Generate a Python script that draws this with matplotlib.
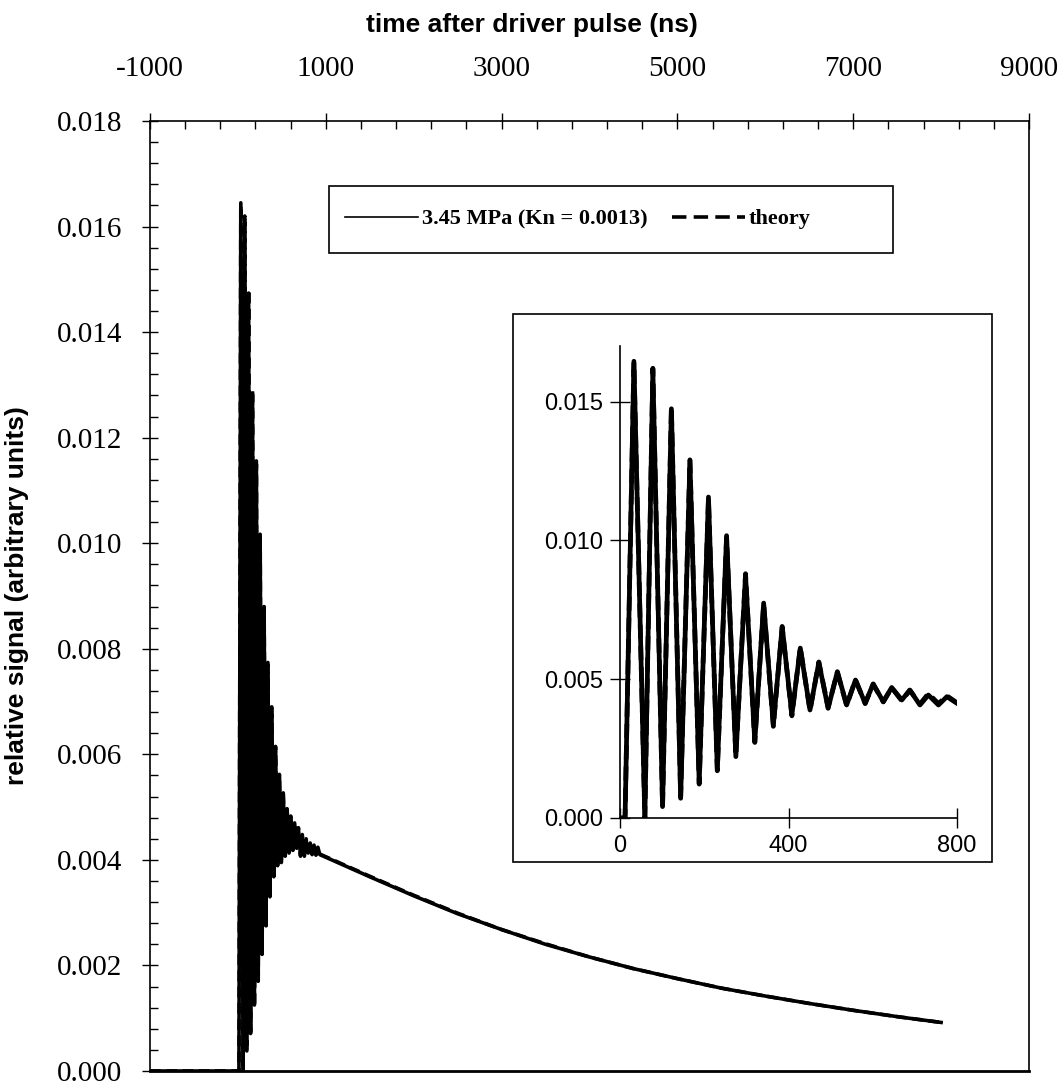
import matplotlib
matplotlib.use("Agg")
import matplotlib.pyplot as plt
from matplotlib import font_manager
from matplotlib.patches import Rectangle
from matplotlib.ticker import MultipleLocator, FixedLocator, FormatStrFormatter
import numpy as np

plt.rcParams["axes.unicode_minus"] = False

# --- data (time in ns, signal in arbitrary units) ---
t_pre = [-1000, 0]
sig_pre = [0.0, 0.0]

t_osc = [0, 12, 33, 59, 78, 101, 122, 144, 166, 188, 210, 231, 253, 275, 298,
         320, 341, 364, 385, 408, 428, 451, 472, 494, 516, 538, 559, 582, 601,
         625, 645, 669, 688, 712, 732, 756, 776, 800]
sig_osc = [0.0, 0.0, 0.01645, 0.0, 0.01615, 0.00041, 0.01474, 0.00071, 0.01284,
           0.00125, 0.01156, 0.00173, 0.01017, 0.00221, 0.00874, 0.00275,
           0.00774, 0.00335, 0.00690, 0.00371, 0.00612, 0.00389, 0.00560,
           0.00395, 0.00527, 0.00407, 0.00497, 0.00413, 0.00483, 0.00419,
           0.00470, 0.00425, 0.00461, 0.00407, 0.00443, 0.00407, 0.00437, 0.00413]
theory_osc = [0.0, 0.0, 0.01640, 0.0, 0.01620, 0.00038, 0.01480, 0.00075, 0.01290,
              0.00122, 0.01150, 0.00170, 0.01010, 0.00224, 0.00880, 0.00272,
              0.00770, 0.00330, 0.00688, 0.00368, 0.00615, 0.00386, 0.00562,
              0.00398, 0.00525, 0.00405, 0.00498, 0.00412, 0.00482, 0.00418,
              0.00469, 0.00422, 0.00460, 0.00410, 0.00448, 0.00412, 0.00440, 0.00415]

t_tail = [822, 844, 866, 888, 910, 932, 1000, 1500, 2000, 2500, 3000, 3500, 4000,
          4500, 5000, 5500, 6000, 6500, 7000, 7500, 8000]
sig_tail = [0.00432, 0.00410, 0.00428, 0.00409, 0.00424, 0.00410, 0.00405,
            0.00368, 0.00332, 0.00298, 0.00268, 0.00240, 0.00216, 0.00194,
            0.00175, 0.00157, 0.00142, 0.00128, 0.00115, 0.00103, 0.00092]
theory_tail = [0.00428, 0.00412, 0.00425, 0.00410, 0.00421, 0.00411, 0.00406,
               0.00369, 0.00333, 0.00299, 0.00268, 0.00241, 0.00216, 0.00194,
               0.00175, 0.00157, 0.00142, 0.00128, 0.00115, 0.00103, 0.00092]

top_ticks = [-1000, 1000, 3000, 5000, 7000, 9000]
inset_xticks = [0, 400, 800]
labels = ["3.45 MPa (Kn = 0.0013)", "theory"]

# fonts
names = {f.name for f in font_manager.fontManager.ttflist}
narrow = "Liberation Sans Narrow" if "Liberation Sans Narrow" in names else "Liberation Sans"
serif = "Liberation Serif"
sans = "Liberation Sans"

W, H = 1063, 1087
fig = plt.figure(figsize=(W / 100, H / 100), dpi=100)

def fx(px):
    return px / W

def fy(py):
    return 1 - py / H

# main axes
ax = fig.add_axes([fx(150), fy(1071), fx(1029) - fx(150), fy(121) - fy(1071)])
t_all = np.concatenate([t_pre, t_osc, t_tail])
sig_all = np.concatenate([sig_pre, sig_osc, sig_tail])
th_all = np.concatenate([sig_pre, theory_osc, theory_tail])
ax.plot(t_all, sig_all, color="black", lw=2.6)
ax.plot(t_all, th_all, color="black", lw=2.6, dashes=(3, 1.5))
ax.set_xlim(-1000, 9000)
ax.set_ylim(0, 0.018)

ax.xaxis.tick_top()
ax.xaxis.set_major_locator(FixedLocator(top_ticks))
ax.xaxis.set_minor_locator(MultipleLocator(400, offset=200))
ax.yaxis.set_major_locator(MultipleLocator(0.002))
ax.yaxis.set_minor_locator(MultipleLocator(0.0004))
ax.yaxis.set_major_formatter(FormatStrFormatter("%.3f"))
ax.tick_params(which="major", direction="inout", length=12, width=1.0,
               labelsize=21, pad=14)
ax.tick_params(axis="x", which="major", pad=22)
ax.tick_params(which="minor", direction="in", length=6, width=1.0)
for lab in ax.get_xticklabels() + ax.get_yticklabels():
    lab.set_fontfamily(serif)
for s in ax.spines.values():
    s.set_linewidth(1.2)
ax.spines["bottom"].set_linewidth(2.0)

fig.text(fx(532), fy(25), "time after driver pulse (ns)", ha="center", va="center",
         fontsize=19, fontweight="bold", family=narrow)
ax.set_ylabel("relative signal (arbitrary units)", fontsize=19,
              fontweight="bold", family=narrow)
ax.yaxis.set_label_coords((29 - 150) / 879, 0.5)

# legend box
fig.patches.append(Rectangle((fx(329), fy(253)), fx(893) - fx(329), fy(186) - fy(253),
                             transform=fig.transFigure, fill=False, lw=1.2,
                             edgecolor="black"))
h1, = ax.plot([], [], color="black", lw=1.2)
h2, = ax.plot([], [], color="black", lw=2.6, dashes=(4, 2))
ax.legend([h1, h2], labels, loc="center left",
          bbox_to_anchor=(fx(345), fy(219)), bbox_transform=fig.transFigure,
          ncol=2, frameon=False, handlelength=3.3, handletextpad=0.15,
          columnspacing=1.1, borderpad=0, borderaxespad=0,
          prop={"family": serif, "weight": "bold", "size": 16})

# inset frame
fig.patches.append(Rectangle((fx(513), fy(862)), fx(992) - fx(513), fy(314) - fy(862),
                             transform=fig.transFigure, fill=False, lw=1.2,
                             edgecolor="black"))

# inset axes
ins = fig.add_axes([fx(620), fy(818), fx(957) - fx(620), fy(346) - fy(818)])
ins.plot(t_osc, sig_osc, color="black", lw=3.4)
ins.plot(t_osc, theory_osc, color="black", lw=3.4, dashes=(3, 1.5))
ins.set_xlim(0, 800)
ins.set_ylim(0, 0.017)
ins.patch.set_visible(False)
ins.spines["top"].set_visible(False)
ins.spines["right"].set_visible(False)
ins.xaxis.set_major_locator(FixedLocator(inset_xticks))
ins.yaxis.set_major_locator(MultipleLocator(0.005))
ins.yaxis.set_major_formatter(FormatStrFormatter("%.3f"))
ins.tick_params(direction="inout", length=14, width=1.0, labelsize=17, pad=5)
for lab in ins.get_xticklabels() + ins.get_yticklabels():
    lab.set_fontfamily(sans)
for s in ins.spines.values():
    s.set_linewidth(1.2)

fig.savefig("out.png", dpi=100)
